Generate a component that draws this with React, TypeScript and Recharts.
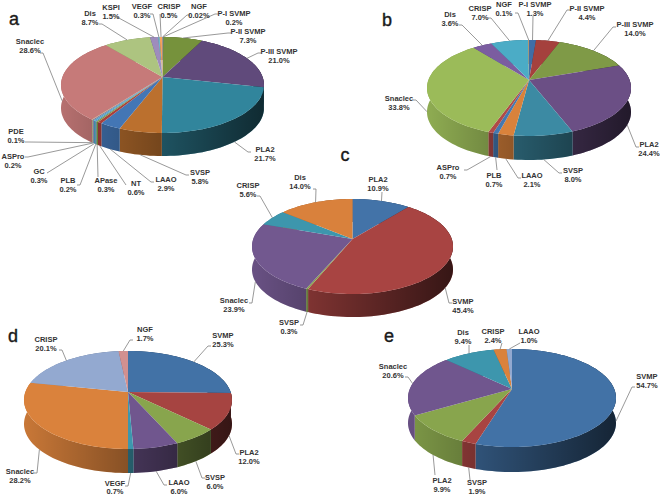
import React from 'react';
import { PieChart, Pie } from 'recharts';

const aNames = ['P-I SVMP', 'P-II SVMP', 'P-III SVMP', 'PLA2', 'SVSP', 'LAAO', 'NT', 'APase', 'PLB', 'GC', 'ASPro', 'PDE', 'Snaclec', 'Dis', 'KSPI', 'VEGF', 'CRISP', 'NGF'];
const aValues = [0.2, 7.3, 21.0, 21.7, 5.8, 2.9, 0.6, 0.3, 0.2, 0.3, 0.2, 0.1, 28.6, 8.7, 1.5, 0.3, 0.5, 0.02];
const bNames = ['P-I SVMP', 'P-II SVMP', 'P-III SVMP', 'PLA2', 'SVSP', 'LAAO', 'PLB', 'ASPro', 'Snaclec', 'Dis', 'CRISP', 'NGF'];
const bValues = [1.3, 4.4, 14.0, 24.4, 8.0, 2.1, 0.7, 0.7, 33.8, 3.6, 7.0, 0.1];
const cNames = ['PLA2', 'SVMP', 'SVSP', 'Snaclec', 'CRISP', 'Dis'];
const cValues = [10.9, 45.4, 0.3, 23.9, 5.6, 14.0];
const dNames = ['SVMP', 'PLA2', 'SVSP', 'LAAO', 'VEGF', 'Snaclec', 'CRISP', 'NGF'];
const dValues = [25.3, 12.0, 6.0, 6.0, 0.7, 28.2, 20.1, 1.7];
const eNames = ['SVMP', 'SVSP', 'PLA2', 'Snaclec', 'Dis', 'CRISP', 'LAAO'];
const eValues = [54.7, 1.9, 9.9, 20.6, 9.4, 2.4, 1.0];

const aColors = ['#4a7ebb', '#76923c', '#604a7b', '#31859c', '#bb702e', '#4376b5', '#aa3f3b', '#7c9c40', '#4f81bd', '#4bacc6', '#7d5fa0', '#9bbb59', '#c67a79', '#adc480', '#9e8cbd', '#6fb7cf', '#f5a25d', '#95b3d7'];
const bColors = ['#3f6ea6', '#a5413d', '#7f9a47', '#6b4f85', '#3c8aa3', '#d9823b', '#4478b0', '#b04a47', '#9bbb59', '#7b5da0', '#4bacc6', '#f79646'];
const cColors = ['#4373a8', '#a84442', '#87a44d', '#72588f', '#3d96ad', '#d9813c'];
const dColors = ['#4272a6', '#a64441', '#88a54d', '#70568e', '#3d97ad', '#da823c', '#93a9d0', '#d19090'];
const eColors = ['#4272a6', '#a84442', '#88a54d', '#70568e', '#3d96ad', '#da823c', '#93a9d0'];

// label spots: text centre x, first line y, leader elbow x, y
const aSpots = [[234, 13], [248, 31], [279, 51], [265, 149], [200, 172], [166, 179], [136, 183], [106, 180], [68, 180], [39, 171], [13, 156], [16, 131], [30, 41], [90, 13], [111, 7], [142, 6], [169, 6], [199, 6]];
const aElbows = [[215, 14], [228, 33], [258, 53], [248, 152], [186, 175], [151, 182], [126, 185], [98, 177], [80, 185], [47, 173], [28, 157], [28, 142], [43, 53], [102, 24], [117, 17], [153, 14], [160, 14], [187, 15]];
const bSpots = [[535, 4], [587, 8], [635, 24], [649, 144], [573, 170], [532, 175], [494, 175], [448, 167], [399, 98], [450, 14], [480, 8], [504, 4]];
const bElbows = [[533, 16], [567, 10], [613, 27], [636, 147], [559, 173], [518, 178], [497, 170], [467, 170], [416, 100], [462, 25], [491, 18], [518, 13]];
const cSpots = [[378, 179], [463, 301], [289, 322], [234, 300], [248, 185], [300, 177]];
const cElbows = [[382, 192], [449, 303], [303, 325], [252, 303], [260, 196], [316, 189]];
const dSpots = [[223, 335], [249, 452], [215, 477], [179, 482], [115, 482.5], [20, 471], [46, 339], [145, 329]];
const dElbows = [[208, 346], [236, 454], [202, 478], [164, 485], [128, 486], [37, 473], [62, 350], [130, 340]];
const eSpots = [[647, 376], [477, 482], [442, 480], [393, 366], [463, 332], [493, 331], [529, 331]];
const eElbows = [[632, 387], [470, 480], [435, 475], [408, 377], [469, 345], [502, 343], [520, 343]];

const toRows = (names: string[], values: number[], digits: number[] = []) =>
  names.map((name, i) => ({ name, value: values[i], text: `${digits[i] ? values[i].toFixed(digits[i]) : values[i].toFixed(1)}%` }));

const panels = [
  { id: 'a', letter: [14, 25], rows: toRows(aNames, aValues, aValues.map((v) => (v === 0.02 ? 2 : 1))), colors: aColors, spots: aSpots, elbows: aElbows, cx: 162.5, cy: 77, rx: 101.5, top: 37, bottom: 133, depth: 23 },
  { id: 'b', letter: [387, 26], rows: toRows(bNames, bValues), colors: bColors, spots: bSpots, elbows: bElbows, cx: 529, cy: 80, rx: 102, top: 40, bottom: 136, depth: 24 },
  { id: 'c', letter: [345, 161], rows: toRows(cNames, cValues), colors: cColors, spots: cSpots, elbows: cElbows, cx: 352.5, cy: 239, rx: 100.5, top: 199, bottom: 294, depth: 23 },
  { id: 'd', letter: [13, 342], rows: toRows(dNames, dValues), colors: dColors, spots: dSpots, elbows: dElbows, cx: 128, cy: 392, rx: 104, top: 351, bottom: 449, depth: 24 },
  { id: 'e', letter: [389, 342], rows: toRows(eNames, eValues), colors: eColors, spots: eSpots, elbows: eElbows, cx: 512, cy: 389, rx: 104, top: 349, bottom: 447, depth: 25 },
];

type Panel = (typeof panels)[number];

// the tilted disc: a circle seen in perspective, so the apex sits above the ellipse centre
const rimPoint = (p: Panel, angle: number) => {
  const up = p.cy - p.top;
  const down = p.bottom - p.cy;
  const b = 2 / (1 / up + 1 / down);
  const k = b / up - 1;
  const r = p.rx * Math.sqrt(1 - k * k);
  const rad = (angle * Math.PI) / 180;
  const s = 1 / (1 + k * Math.sin(rad));
  return { x: p.cx + r * Math.cos(rad) * s, y: p.cy - b * Math.sin(rad) * s };
};

const arcPoints = (p: Panel, from: number, to: number) => {
  const steps = Math.max(2, Math.ceil(Math.abs(to - from) / 2));
  const pts = [];
  for (let i = 0; i <= steps; i++) pts.push(rimPoint(p, from + ((to - from) * i) / steps));
  return pts;
};

const toPath = (pts: { x: number; y: number }[]) =>
  pts.map((q, i) => `${i ? 'L' : 'M'}${q.x.toFixed(2)} ${q.y.toFixed(2)}`).join(' ') + ' Z';

const App = () => {
  return (
    <div style={{ position: 'absolute', left: 0, top: 0, width: 660, height: 496, background: '#fff' }}>
      <PieChart width={660} height={496} margin={{ top: 0, right: 0, bottom: 0, left: 0 }}>
        <defs>
          {panels.map((p) => (
            <linearGradient key={p.id} id={`shade-${p.id}`} gradientUnits="userSpaceOnUse" x1={p.cx - p.rx} y1="0" x2={p.cx + p.rx} y2="0">
              <stop offset="0%" stopColor="#000" stopOpacity={0.08} />
              <stop offset="50%" stopColor="#000" stopOpacity={0.38} />
              <stop offset="100%" stopColor="#000" stopOpacity={0.68} />
            </linearGradient>
          ))}
        </defs>
        {panels.map((p) => (
          <Pie
            key={`wall-${p.id}`}
            data={p.rows}
            dataKey="value"
            cx={p.cx}
            cy={p.cy}
            outerRadius={p.rx}
            startAngle={90}
            endAngle={-270}
            isAnimationActive={false}
            stroke="none"
            shape={(s: any) => {
              const rim = arcPoints(p, s.startAngle, s.endAngle);
              const low = [...rim].reverse().map((q) => ({ x: q.x, y: q.y + p.depth }));
              const d = toPath([...rim, ...low]);
              const i = p.rows.findIndex((r) => r.name === s.name);
              return (
                <g>
                  <path d={d} fill={p.colors[i]} />
                  <path d={d} fill={`url(#shade-${p.id})`} />
                </g>
              );
            }}
          />
        ))}
        {panels.map((p) => (
          <Pie
            key={`top-${p.id}`}
            data={p.rows}
            dataKey="value"
            cx={p.cx}
            cy={p.cy}
            outerRadius={p.rx}
            startAngle={90}
            endAngle={-270}
            isAnimationActive={false}
            stroke="none"
            labelLine={false}
            shape={(s: any) => {
              const i = p.rows.findIndex((r) => r.name === s.name);
              const rim = arcPoints(p, s.startAngle, s.endAngle);
              return <path d={toPath([{ x: p.cx, y: p.cy }, ...rim])} fill={p.colors[i]} />;
            }}
            label={(s: any) => {
              const i = s.index;
              const row = p.rows[i];
              const [lx, ly] = p.spots[i];
              const [ex, ey] = p.elbows[i];
              const rim = rimPoint(p, s.midAngle);
              const front = Math.sin((s.midAngle * Math.PI) / 180) < 0;
              const tail = Math.abs(lx - ex) > 10 ? ` ${ex + (lx > ex ? 3 : -3)},${ey}` : '';
              return (
                <g>
                  <polyline
                    points={`${rim.x},${rim.y + (front ? p.depth : 0)} ${ex},${ey}${tail}`}
                    fill="none"
                    stroke="#7f7f7f"
                    strokeWidth={0.8}
                  />
                  <text x={lx} y={ly + 3} textAnchor="middle" fontFamily="Liberation Sans" fontWeight="bold" fontSize={7.5} fill="#333">
                    {row.name}
                  </text>
                  <text x={lx} y={ly + 11.7} textAnchor="middle" fontFamily="Liberation Sans" fontWeight="bold" fontSize={7.5} fill="#333">
                    {row.text}
                  </text>
                </g>
              );
            }}
          />
        ))}
        {panels.map((p) => (
          <text key={`letter-${p.id}`} x={p.letter[0]} y={p.letter[1]} textAnchor="middle" fontFamily="Liberation Sans" fontSize={18} stroke="#1a1a1a" strokeWidth={0.4} fill="#1a1a1a">
            {p.id}
          </text>
        ))}
      </PieChart>
    </div>
  );
};

export default App;
